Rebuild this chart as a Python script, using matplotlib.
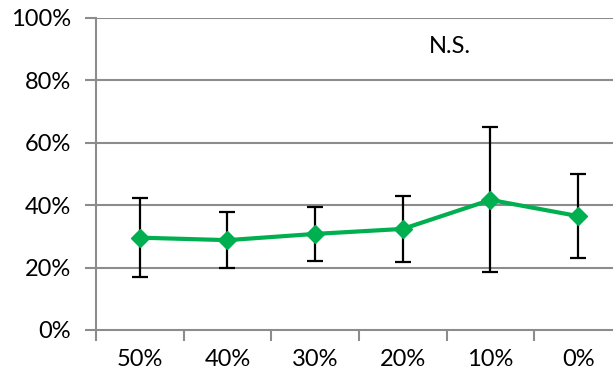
import matplotlib
matplotlib.use("Agg")
import matplotlib.pyplot as plt
import numpy as np

# Share of responses per condition (percent), with lower / upper error bounds
categories = ["50%", "40%", "30%", "20%", "10%", "0%"]
means = [29.6, 28.8, 30.8, 32.4, 41.7, 36.5]
lower = [17.0, 20.0, 22.0, 21.7, 18.5, 23.1]
upper = [42.4, 37.7, 39.3, 42.8, 65.0, 49.9]
y_ticks = [0, 20, 40, 60, 80, 100]
annotation = "N.S."

plt.rcParams["font.family"] = ["Lato", "DejaVu Sans"]

W, H = 613, 378
fig = plt.figure(figsize=(W / 100, H / 100), dpi=100)
left, right, bottom, top = 96, 622, 330, 18
ax = fig.add_axes([left / W, (H - bottom) / H, (right - left) / W, (bottom - top) / H])

x = np.arange(len(categories))
means_a = np.array(means)
yerr = np.vstack([means_a - np.array(lower), np.array(upper) - means_a])

grid_color = "#8c8c8c"
for v in y_ticks[1:]:
    ax.axhline(v, color=grid_color, lw=1.5, zorder=0)

ax.errorbar(x, means, yerr=yerr, fmt="none", ecolor="black", elinewidth=1.6,
            capsize=6, capthick=1.6, zorder=2)
ax.plot(x, means, color="#00B050", lw=3, marker="D", markersize=9,
        markeredgecolor="#00B050", zorder=3)

ax.set_xlim(-0.5, len(categories) - 0.5)
ax.set_ylim(0, 100)

fs = 17
ax.set_yticks(y_ticks)
ax.set_yticklabels([f"{v}%" for v in y_ticks], fontsize=fs)
ax.set_xticks(np.arange(len(categories) + 1) - 0.5)
ax.set_xticklabels([])
ax.set_xticks(x, minor=True)
ax.set_xticklabels(categories, minor=True, fontsize=fs)
ax.tick_params(axis="x", which="minor", length=0, pad=14)
ax.tick_params(axis="x", which="major", length=8, width=1.5, color=grid_color)
ax.tick_params(axis="y", length=8, width=1.5, color=grid_color, pad=10)

for side in ["top", "right"]:
    ax.spines[side].set_visible(False)
for side in ["left", "bottom"]:
    ax.spines[side].set_color(grid_color)
    ax.spines[side].set_linewidth(1.5)

ax.text(3.54, 90.8, annotation, ha="center", va="center", fontsize=fs)

fig.savefig("out.png", dpi=100)
